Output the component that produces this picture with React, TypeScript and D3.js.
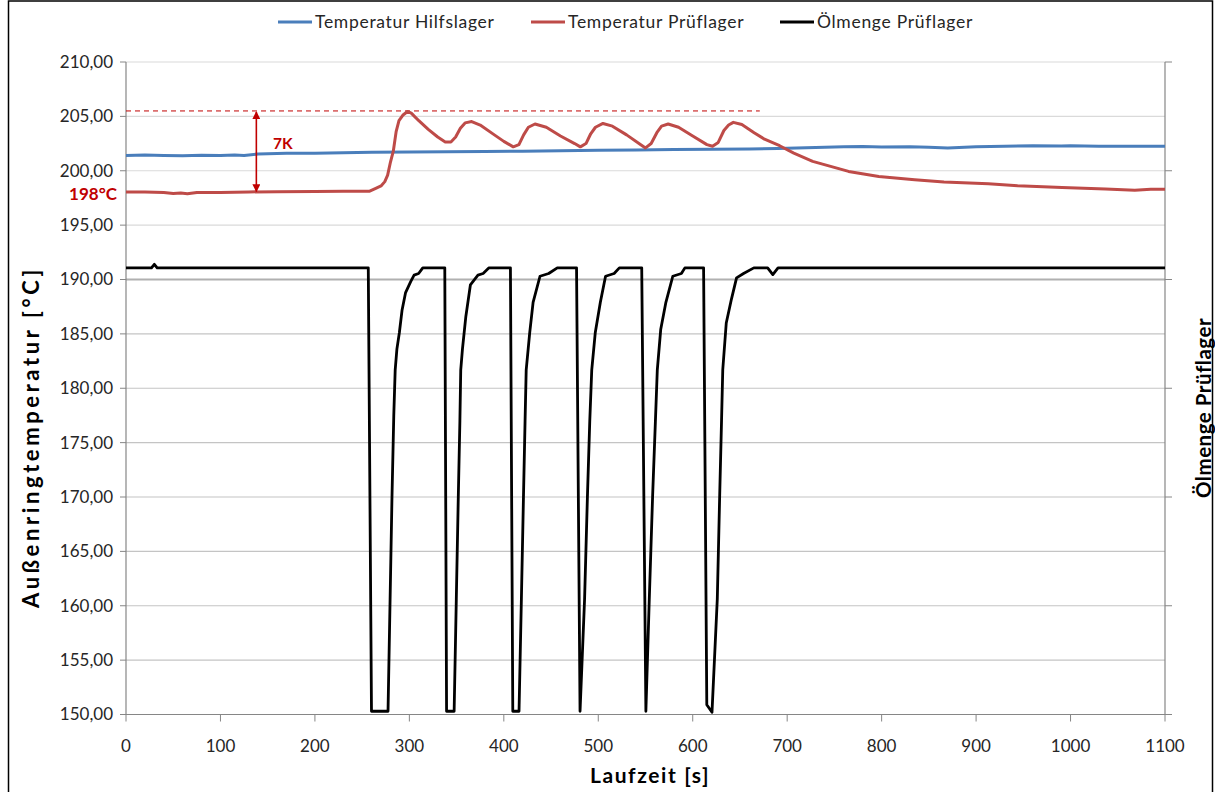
import React from "react";
import * as d3 from "d3";

// ---- data ----
const xTicks = [0, 100, 200, 300, 400, 500, 600, 700, 800, 900, 1000, 1100];
const yTicks = [210, 205, 200, 195, 190, 185, 180, 175, 170, 165, 160, 155, 150];
const y2Ticks = [210, 200, 190, 180, 170, 160, 150];

const seriesNames = ["Temperatur Hilfslager", "Temperatur Prüflager", "Ölmenge Prüflager"];

const hilfslager: [number, number][] = [
  [0, 201.4], [20, 201.45], [40, 201.4], [60, 201.38], [80, 201.42], [100, 201.4], [115, 201.45],
  [125, 201.4], [140, 201.55], [170, 201.6], [200, 201.62], [230, 201.65], [260, 201.7], [300, 201.72],
  [340, 201.75], [380, 201.78], [420, 201.8], [440, 201.82], [460, 201.85], [500, 201.88], [540, 201.9],
  [580, 201.95], [620, 201.98], [660, 202.0], [690, 202.05], [710, 202.1], [740, 202.15], [760, 202.2],
  [780, 202.22], [800, 202.18], [830, 202.2], [850, 202.15], [870, 202.1], [900, 202.2], [930, 202.25],
  [960, 202.3], [990, 202.28], [1000, 202.3], [1030, 202.25], [1060, 202.25], [1100, 202.25],
];

const prueflager: [number, number][] = [
  [0, 198.05], [20, 198.05], [40, 198.0], [50, 197.9], [58, 197.95], [65, 197.88], [75, 198.0],
  [100, 198.0], [130, 198.05], [160, 198.08], [200, 198.1], [230, 198.12], [258, 198.12], [265, 198.4],
  [270, 198.6], [274, 199.0], [277, 199.6], [280, 200.8], [283, 201.8], [286, 203.6], [289, 204.6],
  [293, 205.1], [298, 205.45], [302, 205.3], [310, 204.6], [320, 203.8], [330, 203.1], [338, 202.65],
  [344, 202.65], [349, 203.1], [354, 203.9], [359, 204.4], [366, 204.52], [375, 204.2], [390, 203.3],
  [400, 202.7], [410, 202.2], [416, 202.4], [421, 203.3], [426, 204.0], [433, 204.3], [445, 204.0],
  [460, 203.2], [475, 202.5], [481, 202.2], [487, 202.5], [492, 203.4], [497, 204.0], [505, 204.35],
  [515, 204.1], [530, 203.3], [545, 202.4], [550, 202.1], [556, 202.5], [562, 203.5], [567, 204.1],
  [574, 204.3], [585, 204.0], [600, 203.2], [615, 202.4], [621, 202.25], [627, 202.6], [633, 203.7],
  [638, 204.2], [643, 204.45], [652, 204.25], [665, 203.5], [676, 202.9], [692, 202.3], [707, 201.62],
  [727, 200.86], [746, 200.4], [765, 199.94], [797, 199.48], [835, 199.17], [866, 198.96], [913, 198.8],
  [944, 198.62], [991, 198.47], [1037, 198.32], [1068, 198.2], [1085, 198.3], [1100, 198.3],
];

const oelmenge: [number, number][] = [
  [0, 191.07], [27, 191.07], [30, 191.4], [33, 191.07], [256.5, 191.07], [259.9, 150.3], [277.4, 150.3],
  [279.6, 160.6], [281.6, 170], [283.5, 177.5], [285, 181.7], [286.8, 183.6], [289.4, 185.1],
  [292.3, 187.2], [296, 188.8], [301.4, 189.8], [305, 190.4], [309.8, 190.55], [314.2, 191.07],
  [337.5, 191.07], [339.4, 150.3], [347.4, 150.3], [349.7, 160.6], [351.8, 170], [353.5, 177],
  [354.4, 181.7], [356.2, 183.6], [359.8, 186.6], [364.6, 189.5], [372.6, 190.4], [378.1, 190.55],
  [384.3, 191.07], [407, 191.07], [409.5, 150.3], [416.1, 150.3], [418.6, 160.6], [420.8, 170],
  [422.5, 177], [423.7, 181.7], [427.4, 185.1], [431, 187.9], [438.3, 190.3], [447.5, 190.55],
  [456.6, 191.07], [477, 191.07], [480.7, 150.3], [485.5, 160.6], [488.5, 170], [491, 177],
  [493.1, 181.7], [496.8, 185.1], [502.2, 187.9], [507.7, 190.3], [516.8, 190.55], [522.3, 191.07],
  [546, 191.07], [550.4, 150.3], [554, 160.6], [557.5, 170], [560.5, 177], [562.5, 181.7],
  [566.1, 185.4], [571.6, 187.9], [578.9, 190.3], [588, 190.55], [591.7, 191.07], [611.5, 191.07],
  [614.9, 150.9], [620.4, 150.2], [626, 160.6], [628.5, 170], [630.5, 177], [631.8, 181.7],
  [635.5, 186], [641, 188.2], [646.4, 190.15], [653.8, 190.55], [664.7, 191.07], [679.3, 191.07],
  [684.8, 190.45], [690.3, 191.07], [1100, 191.07],
];

const peakLevel = 205.5;
const baseLevel = 198;
const deltaLabel = "7K";
const baseLabel = "198°C";

const FONT = "Lato, 'Open Sans', sans-serif";

export default function App() {
  const W = 1215, H = 792;
  const x = d3.scaleLinear().domain([0, 1100]).range([126, 1165]);
  const y = d3.scaleLinear().domain([150, 210]).range([714.5, 62]);
  const y2 = d3.scaleLinear().domain([150, 210]).range([714.5, 62]);
  const line = d3.line<[number, number]>().x((d) => x(d[0])).y((d) => y(d[1]));
  const line2 = d3.line<[number, number]>().x((d) => x(d[0])).y((d) => y2(d[1]));
  const axisColor = "#868686";
  const red = "#c00000";
  const colors = ["#4a7ebb", "#be4b48", "#000000"];
  const legendX = [278, 531, 780];

  return (
    <svg width={W} height={H} style={{ position: "absolute", left: 0, top: 0, background: "#fff" }}
      fontFamily={FONT}>
      <defs>
        <marker id="arr" viewBox="0 0 10 10" refX="9" refY="5" markerWidth="5" markerHeight="5" orient="auto-start-reverse">
          <path d="M0,0 L10,5 L0,10 z" fill={red} />
        </marker>
      </defs>
      <rect x={0} y={0} width={W} height={H} fill="#fff" />
      <rect x={8.5} y={1} width={1204} height={830} fill="none" stroke="#000" strokeWidth={1.5} />

      {/* gridlines */}
      {yTicks.map((t) => (
        <line key={"g" + t} x1={x(0)} x2={x(1100)} y1={y(t)} y2={y(t)}
          stroke={t === 190 ? "#b0b0b0" : t > 190 ? "#dadada" : "#c4c4c4"}
          strokeWidth={t === 190 ? 2 : 1.2} />
      ))}
      {/* left ticks */}
      {yTicks.map((t) => (
        <line key={"lt" + t} x1={x(0) - 6} x2={x(0)} y1={y(t)} y2={y(t)} stroke={axisColor} strokeWidth={1} />
      ))}
      {/* right secondary ticks */}
      {y2Ticks.map((t) => (
        <line key={"rt" + t} x1={x(1100)} x2={x(1100) + 7} y1={y2(t)} y2={y2(t)} stroke={axisColor} strokeWidth={1} />
      ))}
      {/* x ticks */}
      {xTicks.map((t) => (
        <line key={"xt" + t} x1={x(t)} x2={x(t)} y1={y(150)} y2={y(150) + 7} stroke={axisColor} strokeWidth={1} />
      ))}
      {/* axes */}
      <line x1={x(0)} x2={x(0)} y1={y(210)} y2={y(150)} stroke={axisColor} strokeWidth={1.2} />
      <line x1={x(1100)} x2={x(1100)} y1={y(210)} y2={y(150)} stroke={axisColor} strokeWidth={1.2} />
      <line x1={x(0)} x2={x(1100)} y1={y(150)} y2={y(150)} stroke={axisColor} strokeWidth={1.2} />

      {/* tick labels */}
      {yTicks.map((t) => (
        <text key={"yl" + t} x={113} y={y(t)} dy="0.35em" textAnchor="end" fontSize={17} fill="#262626">
          {t.toFixed(2).replace(".", ",")}
        </text>
      ))}
      {xTicks.map((t) => (
        <text key={"xl" + t} x={x(t)} y={752} textAnchor="middle" fontSize={17} fill="#262626">{t}</text>
      ))}

      {/* axis titles */}
      <text x={650} y={783} textAnchor="middle" fontSize={21} letterSpacing={1.6} fontWeight="bold" fill="#000">Laufzeit [s]</text>
      <text transform={`translate(39,437) rotate(-90)`} textAnchor="middle" fontSize={22} letterSpacing={3.6} fontWeight="bold" fill="#000">
        Außenringtemperatur [°C]
      </text>
      <text transform={`translate(1211,408) rotate(-90)`} textAnchor="middle" fontSize={20.5} letterSpacing={0.5} fontWeight="bold" fill="#000">
        Ölmenge Prüflager
      </text>

      {/* annotations */}
      <line x1={x(0)} x2={x(671)} y1={y(peakLevel)} y2={y(peakLevel)} stroke={red} strokeWidth={1} strokeDasharray="5,4" />

      {/* series */}
      <path d={line(hilfslager) || ""} fill="none" stroke={colors[0]} strokeWidth={3} strokeLinejoin="round" />
      <path d={line(prueflager) || ""} fill="none" stroke={colors[1]} strokeWidth={3} strokeLinejoin="round" />
      <path d={line2(oelmenge) || ""} fill="none" stroke={colors[2]} strokeWidth={2.8} strokeLinejoin="round" />

      <line x1={x(138)} x2={x(138)} y1={y(peakLevel) + 1} y2={y(baseLevel) - 1} stroke={red} strokeWidth={1.6}
        markerStart="url(#arr)" markerEnd="url(#arr)" />
      <text x={273} y={149} fontSize={15.5} fontWeight="bold" fill={red}>{deltaLabel}</text>
      <text x={117} y={200} textAnchor="end" fontSize={17} fontWeight="bold" fill={red}>{baseLabel}</text>

      {/* legend */}
      {seriesNames.map((n, i) => (
        <g key={n}>
          <line x1={legendX[i]} x2={legendX[i] + 34} y1={22} y2={22} stroke={colors[i]} strokeWidth={3} />
          <text x={legendX[i] + 37} y={22} dy="0.35em" fontSize={17.5} letterSpacing={0.7} fill="#262626">{n}</text>
        </g>
      ))}
    </svg>
  );
}
